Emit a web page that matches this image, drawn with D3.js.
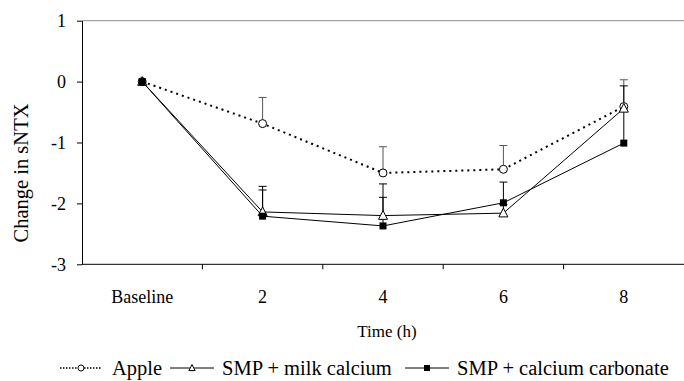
<!DOCTYPE html>
<html>
<head>
<meta charset="utf-8">
<script src="https://cdn.jsdelivr.net/npm/d3@7"></script>
<style>
  html, body { margin: 0; padding: 0; background: #fff; }
  svg { display: block; }
</style>
</head>
<body>
<div id="chart"></div>
<script>
// categories on the x axis
const timepoints = ["Baseline", "2", "4", "6", "8"];
const yTicks = [-3, -2, -1, 0, 1];

// mean change per group
const appleVals = [0, -0.69, -1.50, -1.44, -0.41];
const milkVals = [0, -2.14, -2.20, -2.16, -0.44];
const carbVals = [0, -2.21, -2.37, -1.99, -1.01];

// top of the (upper-only) error bars
const appleErr = [0, -0.26, -1.07, -1.05, 0.03];
const milkErr = [0, -1.72, -1.90, -2.02, -0.07];
const carbErr = [0, -1.78, -1.68, -1.65, -0.47];

const seriesNames = ['Apple', 'SMP + milk calcium', 'SMP + calcium carbonate'];

const width = 684;
const height = 381;
const serif = '"Liberation Serif", "Times New Roman", serif';

const svg = d3.select('#chart').append('svg')
    .attr('width', width)
    .attr('height', height)
    .attr('font-family', serif);

const x = d3.scaleBand()
    .domain(timepoints)
    .range([82, 684])
    .padding(0);

const y = d3.scaleLinear()
    .domain([-3, 1])
    .range([264.3, 20.7]);

const cx = d => x(d) + x.bandwidth() / 2;

// top frame line
svg.append('line')
    .attr('x1', 82).attr('x2', 684)
    .attr('y1', y(1)).attr('y2', y(1))
    .attr('stroke', '#8c8c8c')
    .attr('stroke-width', 1);

// y axis
const yAxis = svg.append('g')
    .attr('transform', 'translate(82,0)')
    .call(d3.axisLeft(y).tickValues(yTicks).tickSize(5).tickSizeOuter(0).tickPadding(11)
        .tickFormat(d3.format('d')));
yAxis.attr('font-family', serif);
yAxis.select('.domain').attr('stroke', '#000');
yAxis.selectAll('.tick line').attr('stroke', '#000');
yAxis.selectAll('.tick text')
    .attr('font-size', '18px')
    .attr('fill', '#000')
    .text(d => d < 0 ? '-' + Math.abs(d) : d);

// x axis, ticks between the categories
const xg = svg.append('g');
xg.append('line')
    .attr('x1', 82).attr('x2', 684)
    .attr('y1', y(-3)).attr('y2', y(-3))
    .attr('stroke', '#000');
xg.selectAll('line.tick')
    .data(timepoints.slice(1))
    .enter()
    .append('line')
    .attr('class', 'tick')
    .attr('x1', d => x(d)).attr('x2', d => x(d))
    .attr('y1', y(-3)).attr('y2', y(-3) + 5)
    .attr('stroke', '#000');
xg.selectAll('text')
    .data(timepoints)
    .enter()
    .append('text')
    .attr('x', d => cx(d))
    .attr('y', 303)
    .attr('text-anchor', 'middle')
    .attr('font-size', '18px')
    .text(d => d);

// axis titles
svg.append('text')
    .attr('transform', 'translate(28,173) rotate(-90)')
    .attr('text-anchor', 'middle')
    .attr('font-size', '20.5px')
    .text('Change in sNTX');

svg.append('text')
    .attr('x', 387)
    .attr('y', 337)
    .attr('text-anchor', 'middle')
    .attr('font-size', '17px')
    .text('Time (h)');

// error bars
const errGroups = [
    { vals: appleVals, err: appleErr, color: '#555' },
    { vals: milkVals, err: milkErr, color: '#000' },
    { vals: carbVals, err: carbErr, color: '#000' }
];
errGroups.forEach(g => {
    const rows = timepoints.map((t, i) => ({ t: t, v: g.vals[i], e: g.err[i] })).filter(r => r.e !== r.v);
    const eg = svg.append('g').attr('stroke', g.color).attr('stroke-width', 1);
    eg.selectAll('line.bar').data(rows).enter().append('line')
        .attr('x1', d => cx(d.t)).attr('x2', d => cx(d.t))
        .attr('y1', d => y(d.v)).attr('y2', d => y(d.e));
    eg.selectAll('line.cap').data(rows).enter().append('line')
        .attr('x1', d => cx(d.t) - 4).attr('x2', d => cx(d.t) + 4)
        .attr('y1', d => y(d.e)).attr('y2', d => y(d.e));
});

// series lines
const line = d3.line()
    .x((d, i) => cx(timepoints[i]))
    .y(d => y(d));

svg.append('path')
    .datum(appleVals)
    .attr('d', line)
    .attr('fill', 'none')
    .attr('stroke', '#000')
    .attr('stroke-width', 2)
    .attr('stroke-dasharray', '2,4');

svg.append('path')
    .datum(milkVals)
    .attr('d', line)
    .attr('fill', 'none')
    .attr('stroke', '#000')
    .attr('stroke-width', 1);

svg.append('path')
    .datum(carbVals)
    .attr('d', line)
    .attr('fill', 'none')
    .attr('stroke', '#000')
    .attr('stroke-width', 1);

// markers
const triPath = s => `M0,${-s}L${s * 0.9},${s * 0.75}L${-s * 0.9},${s * 0.75}Z`;

svg.selectAll('circle.apple')
    .data(appleVals)
    .enter()
    .append('circle')
    .attr('class', 'apple')
    .attr('cx', (d, i) => cx(timepoints[i]))
    .attr('cy', d => y(d))
    .attr('r', 4)
    .attr('fill', '#fff')
    .attr('stroke', '#000');

svg.selectAll('path.milk')
    .data(milkVals)
    .enter()
    .append('path')
    .attr('class', 'milk')
    .attr('transform', (d, i) => `translate(${cx(timepoints[i])},${y(d)})`)
    .attr('d', triPath(5))
    .attr('fill', '#fff')
    .attr('stroke', '#000');

svg.selectAll('rect.carb')
    .data(carbVals)
    .enter()
    .append('rect')
    .attr('class', 'carb')
    .attr('x', (d, i) => cx(timepoints[i]) - 3.5)
    .attr('y', d => y(d) - 3.5)
    .attr('width', 7)
    .attr('height', 7)
    .attr('fill', '#000');

// legend
const legendLineX = [60, 170, 405];
const legendTextGap = [10, 8, 8];
const ly = 368;
const legend = svg.append('g').attr('font-size', '20.5px');
seriesNames.forEach((name, i) => {
    const lx = legendLineX[i];
    const lineLen = i === 0 ? 42 : 44;
    legend.append('line')
        .attr('x1', lx).attr('x2', lx + lineLen)
        .attr('y1', ly).attr('y2', ly)
        .attr('stroke', '#000')
        .attr('stroke-width', i === 0 ? 1.5 : 1)
        .attr('stroke-dasharray', i === 0 ? '1.5,1.5' : null);
    const mx = lx + lineLen / 2;
    if (i === 0) {
        legend.append('circle').attr('cx', mx).attr('cy', ly).attr('r', 3)
            .attr('fill', '#fff').attr('stroke', '#000');
    } else if (i === 1) {
        legend.append('path').attr('transform', `translate(${mx},${ly})`)
            .attr('d', triPath(3.5)).attr('fill', '#fff').attr('stroke', '#000');
    } else {
        legend.append('rect').attr('x', mx - 3).attr('y', ly - 3)
            .attr('width', 6).attr('height', 6).attr('fill', '#000');
    }
    legend.append('text')
        .attr('x', lx + lineLen + legendTextGap[i])
        .attr('y', ly + 7)
        .text(name);
});
</script>
</body>
</html>
